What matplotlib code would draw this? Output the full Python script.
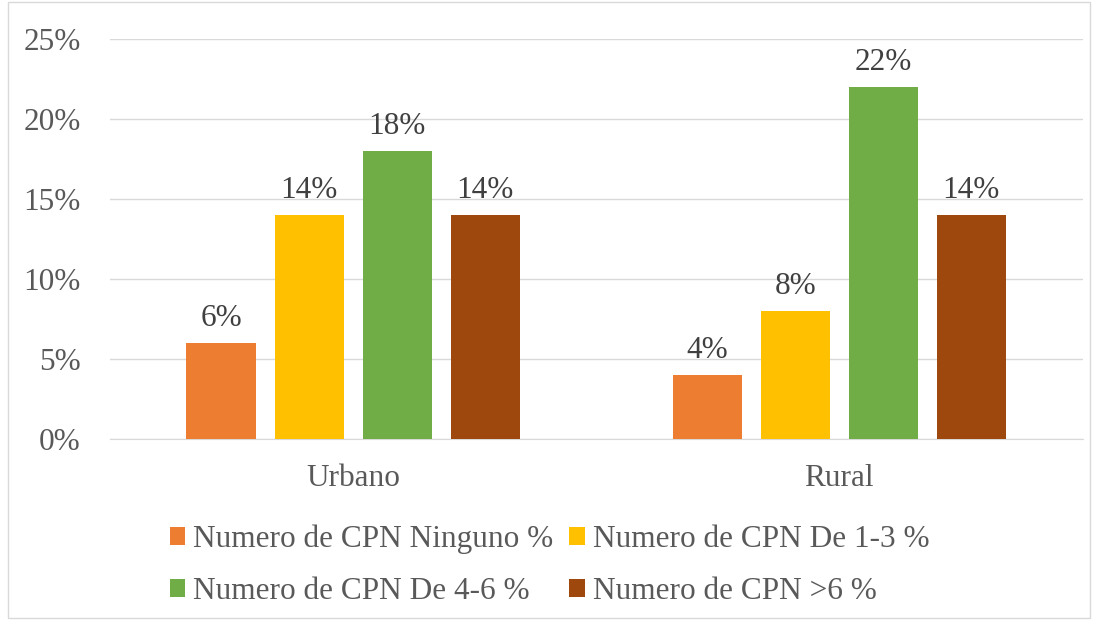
import numpy as np
import matplotlib.pyplot as plt
from matplotlib.patches import Rectangle

plt.rcParams['font.family'] = ['Liberation Serif', 'DejaVu Serif']

# data
categories = ['Urbano', 'Rural']
series = ['Numero de CPN Ninguno %', 'Numero de CPN De 1-3 %',
          'Numero de CPN De 4-6 %', 'Numero de CPN >6 %']
values = [[0.06, 0.04],
          [0.14, 0.08],
          [0.18, 0.22],
          [0.14, 0.14]]
colors = ['#ED7D31', '#FFC000', '#70AD47', '#9E480E']

fs = 22.5
fig = plt.figure(figsize=(10.99, 6.2), dpi=100)
ax = fig.add_axes([0.100, 0.292, 0.885, 0.645])

x = np.arange(len(categories))
w = 0.142
step = 0.181
bars_list = []
for i, (name, vals) in enumerate(zip(series, values)):
    pos = x + (i - 1.5) * step
    bars = ax.bar(pos, vals, w, color=colors[i], label=name, zorder=3)
    bars_list.append(bars)
    for b, v in zip(bars, vals):
        ax.text(b.get_x() + b.get_width() / 2, v + 0.006, '%d%%' % round(v * 100),
                ha='center', va='bottom', fontsize=fs, color='#404040')

ax.set_xlim(-0.5, 1.5)
ax.set_ylim(0, 0.25)
ax.set_yticks(np.arange(0, 0.26, 0.05))
ax.set_yticklabels(['%d%%' % (t * 100) for t in np.arange(0, 26, 5) / 100])
ax.set_xticks(x)
ax.set_xticklabels(categories)
ax.tick_params(axis='both', length=0, labelsize=fs, labelcolor='#595959')
ax.tick_params(axis='x', pad=18)
ax.tick_params(axis='y', pad=21)
ax.grid(axis='y', color='#D9D9D9', lw=1, zorder=0)
for s in ['top', 'right', 'left']:
    ax.spines[s].set_visible(False)
ax.spines['bottom'].set_color('#D9D9D9')

# legend filled row by row
order = [0, 2, 1, 3]
fig.legend([bars_list[i] for i in order], [series[i] for i in order],
           loc='center', bbox_to_anchor=(0.50, 0.088), ncol=2, frameon=False,
           fontsize=fs, handlelength=0.5, handleheight=0.5, handletextpad=0.25,
           columnspacing=0.5, labelspacing=0.75, labelcolor='#595959')

fig.patches.append(Rectangle((0.007, 0.003), 0.985, 0.994, transform=fig.transFigure,
                             fill=False, edgecolor='#D9D9D9', lw=1))

fig.savefig('out.png', dpi=100)
